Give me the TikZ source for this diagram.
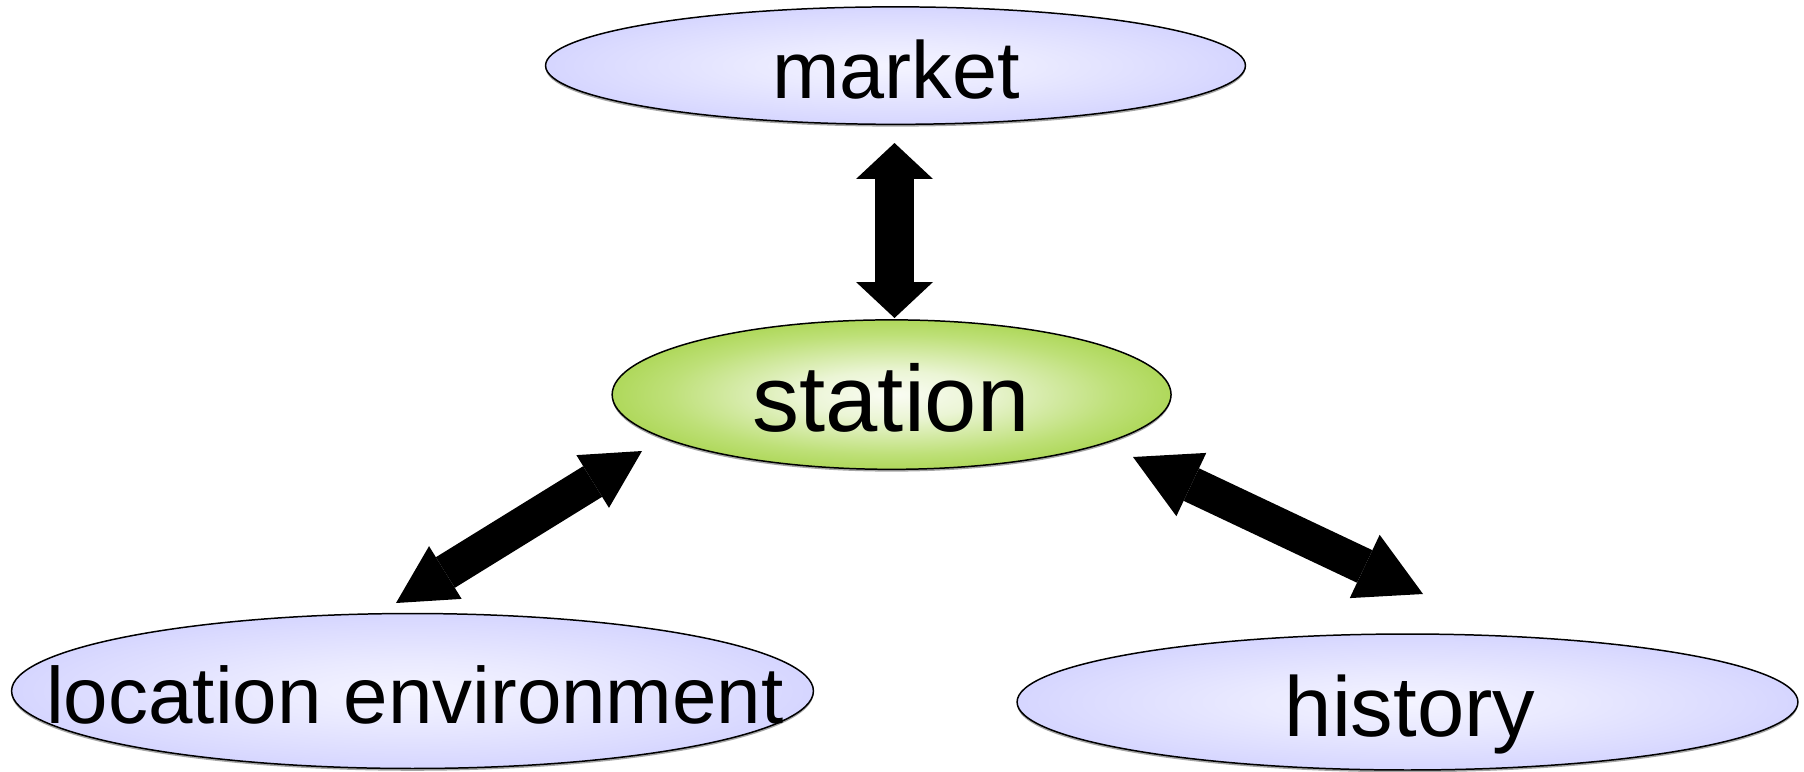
\documentclass[tikz,border=0pt]{standalone}
\usepackage{fontspec}
\setmainfont{Liberation Sans}
\usetikzlibrary{arrows.meta,shapes.geometric,shadows,calc}

\definecolor{lavin}{RGB}{244,244,255}
\definecolor{lavmid}{RGB}{218,218,255}
\definecolor{lavout}{RGB}{200,200,255}
\definecolor{grnin}{RGB}{250,252,244}
\definecolor{grnmid}{RGB}{190,224,120}
\definecolor{grnout}{RGB}{154,205,50}

\pgfdeclareradialshading{lavglow}{\pgfpoint{0bp}{0bp}}{color(0bp)=(lavin); color(10bp)=(lavin!60!lavmid); color(22bp)=(lavmid); color(34bp)=(lavout); color(50bp)=(lavout)}
\pgfdeclareradialshading{grnglow}{\pgfpoint{0bp}{0bp}}{color(0bp)=(grnin); color(8bp)=(grnin!75!grnmid); color(20bp)=(grnmid); color(32bp)=(grnout); color(50bp)=(grnout)}

\tikzset{
  bubble/.style={ellipse, draw=black, line width=0.85pt, inner sep=0pt,
    drop shadow={shadow xshift=0pt, shadow yshift=-1.3pt, opacity=0.35, fill=black}},
  lavbubble/.style={bubble, shading=lavglow},
  grnbubble/.style={bubble, shading=grnglow},
  word/.style={anchor=base, inner sep=0pt, text=black},
  wordA/.style={word, font=\fontsize{46.1pt}{50pt}\selectfont},
  wordB/.style={word, font=\fontsize{53.5pt}{58pt}\selectfont},
  wordC/.style={word, font=\fontsize{45.5pt}{50pt}\selectfont},
  wordD/.style={word, font=\fontsize{48.4pt}{52pt}\selectfont},
  dblarrow/.style n args={3}{draw=black, line width=#1,
    {Triangle[length=#2, width=#3, line width=0pt]}-{Triangle[length=#2, width=#3, line width=0pt]}}
}

\begin{document}
\begin{tikzpicture}[x=0.02cm, y=-0.02cm]
  \useasboundingbox (0,0) rectangle (1804,771);
  \fill[white] (0,0) rectangle (1804,771);

  % ellipses
  \node[lavbubble, minimum width=14cm, minimum height=2.35cm] (market) at (895.5,65.6) {};
  \node[grnbubble, minimum width=11.18cm, minimum height=2.99cm] (station) at (891.6,394.6) {};
  \node[lavbubble, minimum width=16.04cm, minimum height=3.1cm] (location) at (412.5,691) {};
  \node[lavbubble, minimum width=15.62cm, minimum height=2.72cm] (history) at (1407.5,702) {};

  % labels
  \node[wordA] (marketword) at (896,98) {market};
  \node[wordB] (stationword) at (891,431.7) {station};
  \node[wordC] (locationword) at (415,723.3) {location environment};
  \node[wordD] (historyword) at (1410,736.7) {history};

  % arrow end points
  \coordinate (mtop) at (894.5,143);
  \coordinate (mbot) at (894.5,318);
  \coordinate (ltop) at (642,451);
  \coordinate (lbot) at (396,603);
  \coordinate (rtop) at (1133,457);
  \coordinate (rbot) at (1423,594);

  % double-headed arrows
  \draw[dblarrow={0.78cm}{0.72cm}{1.54cm}] (mtop) -- (mbot);
  \draw[dblarrow={0.72cm}{1.16cm}{1.24cm}] (ltop) -- (lbot);
  \draw[dblarrow={0.72cm}{1.29cm}{1.40cm}] (rtop) -- (rbot);
\end{tikzpicture}
\end{document}
